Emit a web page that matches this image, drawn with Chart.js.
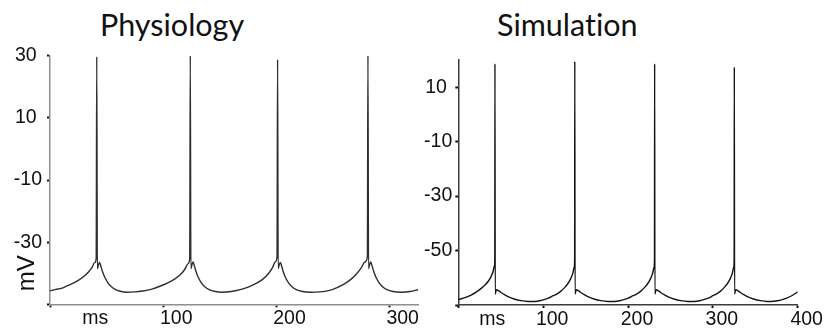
<!DOCTYPE html>
<html>
<head>
<meta charset="utf-8">
<script src="https://cdn.jsdelivr.net/npm/chart.js@4.4.1/dist/chart.umd.min.js"></script>
<style>
  html, body { margin: 0; padding: 0; background: #fff; }
  #wrap { position: relative; width: 825px; height: 331px; overflow: hidden; }
  .panel { position: absolute; top: 0; height: 331px; }
  .title { position: absolute; top: 6px; font-family: Lato, "Open Sans", sans-serif; font-size: 30.5px; color: #111; white-space: nowrap; font-variant-ligatures: none; font-feature-settings: "liga" 0, "clig" 0; }
</style>
</head>
<body>
<div id="wrap">
  <div class="title" style="left:100px">Physiology</div>
  <div class="title" style="left:497px">Simulation</div>
  <div class="panel" style="left:0;width:420px"><canvas id="physChart" width="420" height="331"></canvas></div>
  <div class="panel" style="left:420px;width:405px"><canvas id="simChart" width="405" height="331"></canvas></div>
</div>
<script>
// recorded membrane potential (ms, mV)
const physTime = [
  0, 5, 10, 15, 20, 25, 30, 34, 37, 39.5, 40.8, 41.3,
  41.8, 42.8, 43.8, 44.8, 46.5, 48.5, 51, 54, 57.5, 62, 68, 75, 82, 90, 97, 104, 110, 115, 119, 122, 123.4, 123.9,
  124.4, 125.4, 126.4, 127.4, 129, 131, 133.5, 136.5, 140.5, 146, 152, 160, 168, 175, 182, 188, 193, 196.5, 199, 200.5, 201,
  201.5, 202.5, 203.5, 204.5, 206, 208, 210.5, 213.5, 217.5, 223, 230, 238, 246, 253, 260, 266, 271, 275, 278, 280.3, 280.8,
  281.3, 282.3, 283.3, 284.3, 286, 288, 290.5, 293.5, 297.5, 303, 310, 318, 325
];
const physVolt = [
  -45.7, -45.2, -44.9, -44.1, -43.3, -42.3, -41.0, -39.6, -38.2, -36.6, -35.2, 29.7,
  -38.6, -37.3, -36.5, -37.6, -39.6, -41.4, -43.0, -44.3, -45.2, -45.8, -46.1, -46.0, -45.7, -45.1, -44.2, -43.1, -41.9, -40.5, -38.8, -36.9, -35.3, 30.0,
  -38.5, -37.2, -36.4, -37.5, -39.5, -41.4, -43.0, -44.3, -45.3, -45.9, -46.1, -45.9, -45.3, -44.5, -43.3, -41.9, -40.1, -38.2, -36.3, -34.8, 28.8,
  -38.5, -37.2, -36.5, -37.6, -39.5, -41.4, -43.0, -44.3, -45.3, -45.9, -46.1, -46.0, -45.6, -44.7, -43.4, -41.9, -40.1, -38.2, -36.4, -34.8, 30.0,
  -38.5, -37.2, -36.4, -37.5, -39.5, -41.4, -43.0, -44.3, -45.3, -45.9, -46.1, -45.9, -45.3
];
const physTimeTicks = [0, 100, 200, 300];
const physVoltTicks = [-50, -30, -10, 10, 30];

// model membrane potential (ms, mV)
const simTime = [
  0, 8, 15, 21, 27, 32, 36, 39, 41, 42.4, 43.0, 43.2,
  43.5, 44.9, 46.9, 49.9, 54.9, 59.9, 65.9, 73.9, 81.9, 89.9, 97.9, 105.4, 111.9, 117, 121, 125, 129, 132.5, 135, 136.5, 137.1, 137.3,
  137.6, 139, 141, 144, 149, 154, 160, 168, 176, 184, 192, 199.5, 206, 211.1, 215.1, 219.1, 223.1, 226.6, 229.1, 230.6, 231.2, 231.4,
  231.7, 233.1, 235.1, 238.1, 243.1, 248.1, 254.1, 262.1, 270.1, 278.1, 286.1, 293.6, 300.1, 305, 309, 313, 317, 320.5, 323, 324.5, 325.1, 325.3,
  325.6, 327, 329, 332, 337, 342, 348, 356, 364, 372, 380, 387, 393, 400
];
const simVolt = [
  -68.0, -67.3, -66.4, -65.3, -63.9, -62.5, -61.0, -59.3, -57.7, -55.8, -53.0, 18.6,
  -66.0, -64.4, -64.6, -65.3, -66.3, -67.1, -67.8, -68.4, -68.7, -68.7, -68.3, -67.6, -66.6, -65.8, -64.9, -63.7, -62.2, -60.3, -58.3, -56.2, -53.0, 19.5,
  -66.0, -64.4, -64.6, -65.3, -66.3, -67.1, -67.8, -68.4, -68.7, -68.7, -68.3, -67.6, -66.6, -65.8, -64.9, -63.7, -62.2, -60.3, -58.3, -56.2, -53.0, 18.6,
  -66.0, -64.4, -64.6, -65.3, -66.3, -67.1, -67.8, -68.4, -68.7, -68.7, -68.3, -67.6, -66.6, -65.8, -64.9, -63.7, -62.2, -60.3, -58.3, -56.2, -53.0, 17.4,
  -66.0, -64.4, -64.6, -65.3, -66.3, -67.1, -67.8, -68.4, -68.7, -68.6, -68.2, -67.5, -66.6, -65.2
];
const simTimeTicks = [0, 100, 200, 300, 400];
const simVoltTicks = [-70, -50, -30, -10, 10];

const tickFont = { family: '"Liberation Sans", Arial, sans-serif', size: 19.5 };

// "ms" sits on the tick row, "mV" is written sideways next to the y axis
const unitLabels = {
  id: 'unitLabels',
  afterDraw(chart, args, opts) {
    const { ctx, scales: { x, y } } = chart;
    ctx.save();
    ctx.fillStyle = '#111';
    ctx.textAlign = 'center';
    ctx.textBaseline = 'middle';
    ctx.font = '19.5px "Liberation Sans", Arial, sans-serif';
    ctx.fillText('ms', x.getPixelForValue(opts.msAt), x.top + 14.7);
    if (opts.mvAt !== undefined) {
      ctx.translate(27, y.getPixelForValue(opts.mvAt));
      ctx.rotate(-Math.PI / 2);
      ctx.font = '24px "Liberation Sans", Arial, sans-serif';
      ctx.fillText('mV', 0, 0);
    }
    ctx.restore();
  }
};

function makePanel(id, time, volt, cfg) {
  const pts = time.map((t, i) => ({ x: t, y: volt[i] }));
  const tickMarks = { drawOnChartArea: false, drawTicks: true, tickLength: 3, tickWidth: 2, tickColor: '#111' };
  return new Chart(document.getElementById(id), {
    type: 'line',
    data: {
      datasets: [{
        data: pts,
        borderColor: cfg.trace,
        borderWidth: 1.4,
        pointRadius: 0,
        cubicInterpolationMode: 'monotone',
        fill: false
      }]
    },
    options: {
      responsive: false,
      animation: false,
      events: [],
      layout: { padding: { top: cfg.top, right: cfg.right, left: 0, bottom: 0 } },
      scales: {
        x: {
          type: 'linear',
          min: 0,
          max: cfg.xMax,
          afterBuildTicks: s => { s.ticks = cfg.xTicks.map(v => ({ value: v })); },
          afterFit: s => { s.height = cfg.xHeight; },
          border: { display: true, color: cfg.axis, width: 1.5 },
          grid: tickMarks,
          ticks: {
            maxRotation: 0,
            autoSkip: false,
            padding: 0,
            labelOffset: cfg.xLabelShift,
            color: '#111',
            font: tickFont,
            callback: v => (v === 0 ? '' : v)
          }
        },
        y: {
          min: cfg.yMin,
          max: cfg.yMax,
          afterBuildTicks: s => { s.ticks = cfg.yTicks.map(v => ({ value: v })); },
          afterFit: s => { s.width = cfg.yWidth; },
          border: { display: true, color: cfg.axis, width: 1.5 },
          grid: tickMarks,
          ticks: {
            autoSkip: false,
            padding: cfg.yPad,
            color: '#111',
            font: tickFont,
            callback: v => (v === cfg.yMin ? '' : v > 0 ? v + ' ' : String(v))
          }
        }
      },
      plugins: {
        legend: { display: false },
        tooltip: { enabled: false },
        unitLabels: { msAt: 40, mvAt: cfg.mvAt }
      }
    },
    plugins: [unitLabels]
  });
}

makePanel('physChart', physTime, physVolt, {
  trace: '#2e2e2e', axis: '#8f8f8f',
  xMax: 325, yMin: -50, yMax: 30,
  xTicks: physTimeTicks, yTicks: physVoltTicks,
  top: 55.7, right: 2, xHeight: 26.7, yWidth: 50,
  xLabelShift: 13, yPad: 5, mvAt: -40
});

makePanel('simChart', simTime, simVolt, {
  trace: '#141414', axis: '#3c3c3c',
  xMax: 400, yMin: -70, yMax: 20,
  xTicks: simTimeTicks, yTicks: simVoltTicks,
  top: 60, right: 27.3, xHeight: 26, yWidth: 38.3,
  xLabelShift: 9, yPad: 3
});
</script>
</body>
</html>
